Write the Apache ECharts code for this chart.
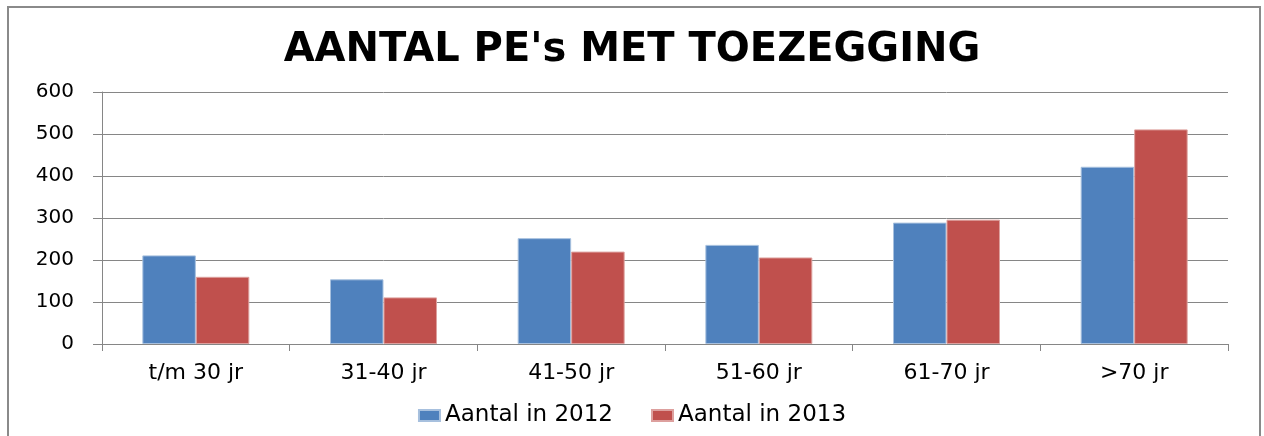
<!DOCTYPE html>
<html>
<head>
<meta charset="utf-8">
<script src="https://cdn.jsdelivr.net/npm/echarts@6/dist/echarts.min.js"></script>
<style>
  html, body { margin: 0; padding: 0; background: #fff; }
  #chart { width: 1264px; height: 436px; }
</style>
</head>
<body>
<div id="chart"></div>
<script>
const categories = ['t/m 30 jr', '31-40 jr', '41-50 jr', '51-60 jr', '61-70 jr', '>70 jr']
const values2012 = [211, 154, 252, 236, 289, 422]
const values2013 = [160, 111, 220, 206, 296, 511]
const yTicks = [0, 100, 200, 300, 400, 500, 600]

const chart = echarts.init(document.getElementById('chart'))

const axisGray = '#868686'
const labelFont = 'DejaVu Sans'

chart.setOption({
  animation: false,
  backgroundColor: '#fff',
  graphic: [
    {
      type: 'rect',
      shape: { x: 8, y: 7, width: 1252, height: 440 },
      style: { fill: 'none', stroke: '#8a8a8a', lineWidth: 2 },
      silent: true
    }
  ],
  title: {
    text: "AANTAL PE's MET TOEZEGGING",
    left: 'center',
    top: 26,
    textStyle: {
      fontFamily: 'DejaVu Sans',
      fontWeight: 'bold',
      fontSize: 40,
      color: '#000'
    }
  },
  legend: {
    top: 399,
    left: 'center',
    itemWidth: 21,
    itemHeight: 11,
    itemGap: 38,
    icon: 'rect',
    textStyle: { fontFamily: labelFont, fontSize: 23, color: '#000' },
    data: ['Aantal in 2012', 'Aantal in 2013']
  },
  grid: {
    left: 102,
    right: 36,
    top: 92,
    bottom: 92,
    containLabel: false
  },
  xAxis: {
    type: 'category',
    data: categories,
    axisLine: { lineStyle: { color: axisGray, width: 1 } },
    axisTick: { show: true, length: 7, alignWithLabel: false, lineStyle: { color: axisGray } },
    axisLabel: { fontFamily: labelFont, fontSize: 22, color: '#000', margin: 18 }
  },
  yAxis: {
    type: 'value',
    min: yTicks[0],
    max: yTicks[yTicks.length - 1],
    interval: 100,
    axisLine: { show: true, lineStyle: { color: axisGray, width: 1 } },
    axisTick: { show: true, length: 9, lineStyle: { color: axisGray } },
    splitLine: { lineStyle: { color: axisGray, width: 1 } },
    axisLabel: { fontFamily: labelFont, fontSize: 20, color: '#000', margin: 28 }
  },
  series: [
    {
      name: 'Aantal in 2012',
      type: 'bar',
      data: values2012,
      barGap: '0%',
      barCategoryGap: '43%',
      itemStyle: { color: '#4f81bd', borderColor: '#a7c0de', borderWidth: 1 }
    },
    {
      name: 'Aantal in 2013',
      type: 'bar',
      data: values2013,
      barGap: '0%',
      barCategoryGap: '43%',
      itemStyle: { color: '#c0504d', borderColor: '#dda09e', borderWidth: 1 }
    }
  ]
})
</script>
</body>
</html>
